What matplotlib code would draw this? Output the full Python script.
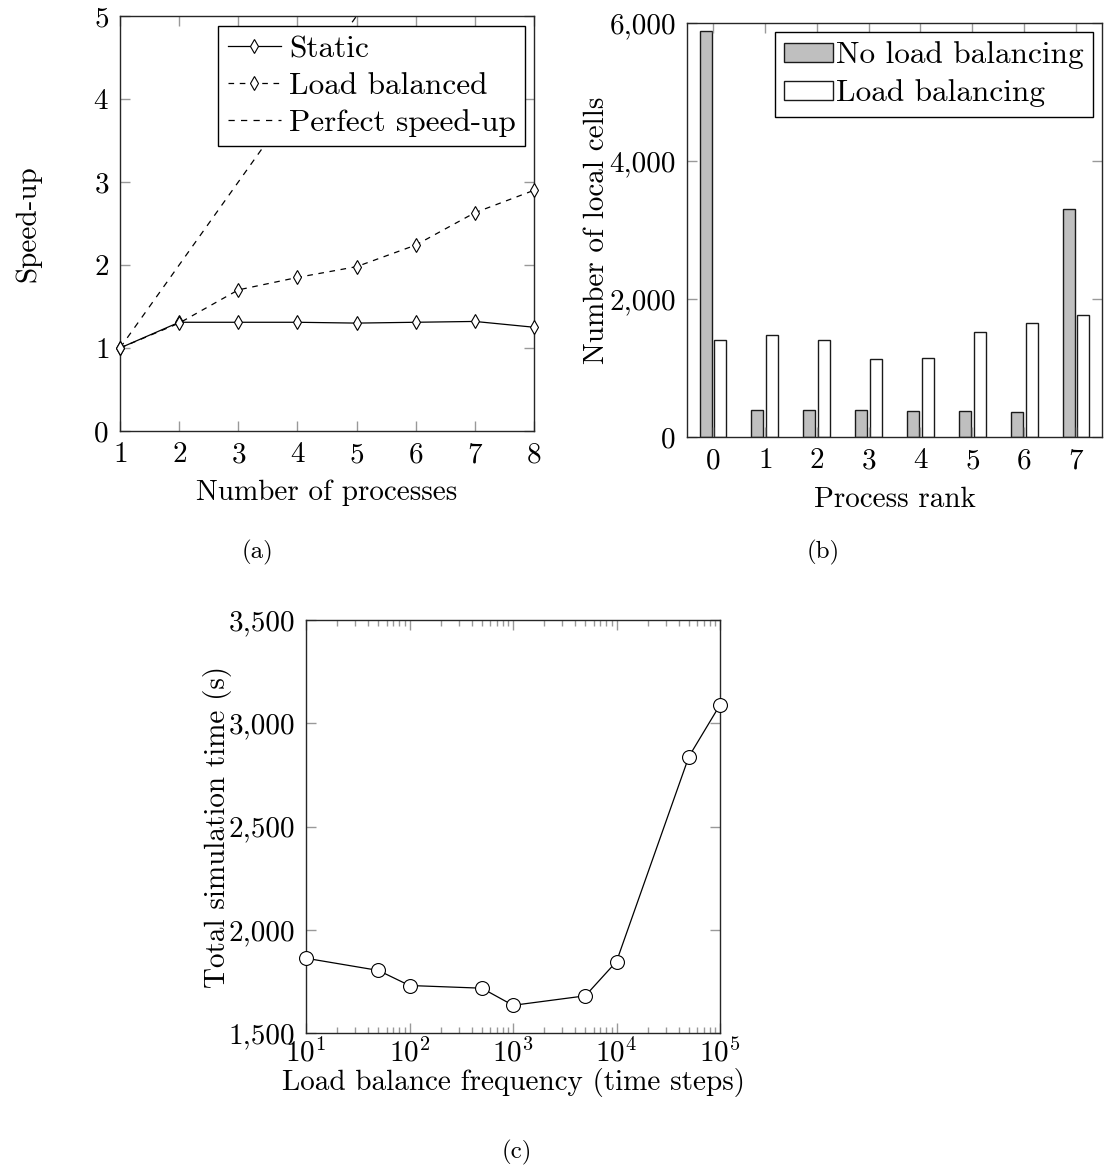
import matplotlib
matplotlib.use("Agg")
import matplotlib.pyplot as plt
import numpy as np
from matplotlib.ticker import FuncFormatter, LogLocator, NullFormatter, LogFormatterMathtext

plt.rcParams["font.family"] = "serif"
plt.rcParams["font.serif"] = ["cmr10"]
plt.rcParams["mathtext.fontset"] = "cm"
plt.rcParams["axes.formatter.use_mathtext"] = True
plt.rcParams["font.size"] = 21

# (a) speed-up
procs = [1, 2, 3, 4, 5, 6, 7, 8]
static = [1.0, 1.31, 1.31, 1.31, 1.30, 1.31, 1.32, 1.25]
balanced = [1.0, 1.30, 1.70, 1.85, 1.98, 2.24, 2.63, 2.90]
perfect = [1, 2, 3, 4, 5, 6, 7, 8]

# (b) cells per rank
ranks = [0, 1, 2, 3, 4, 5, 6, 7]
cells_static = [5890, 396, 391, 386, 381, 372, 357, 3305]
cells_balanced = [1406, 1483, 1406, 1130, 1145, 1517, 1647, 1763]

# (c) load balance frequency
freq = [10, 50, 100, 500, 1000, 5000, 10000, 50000, 100000]
sim_time = [1862, 1803, 1730, 1717, 1634, 1680, 1846, 2838, 3089]

W, H = 1104, 1174
fig = plt.figure(figsize=(W / 100, H / 100), dpi=100)


def box(l, t, r, b):
    return [l / W, 1 - b / H, (r - l) / W, (b - t) / H]


def style(ax):
    for s in ax.spines.values():
        s.set_color("0.15")
        s.set_linewidth(1.0)
    ax.tick_params(which="both", direction="in", top=True, right=True,
                   color="0.6", width=1.0, pad=8)
    ax.tick_params(which="major", length=7)
    ax.tick_params(which="minor", length=4.5)


comma = FuncFormatter(lambda v, p: "{:,.0f}".format(v))

# ---- (a)
ax1 = fig.add_axes(box(120, 16, 534, 431))
style(ax1)
ax1.plot(procs, static, "-", color="black", lw=0.9, marker="d", ms=7,
         mfc="white", mec="black", mew=0.8, clip_on=False, zorder=3, label="Static")
ax1.plot(procs, balanced, color="black", lw=0.9, ls=(0, (4.5, 4.5)), marker="d", ms=7,
         mfc="white", mec="black", mew=0.8, clip_on=False, zorder=3, label="Load balanced")
ax1.plot(procs, perfect, color="black", lw=0.9, ls=(0, (5, 5)), label="Perfect speed-up")
ax1.set_xlim(1, 8)
ax1.set_ylim(0, 5)
ax1.set_xticks(procs)
ax1.set_yticks([0, 1, 2, 3, 4, 5])
ax1.set_xlabel("Number of processes", va="center")
ax1.set_ylabel("Speed-up", va="center")
ax1.xaxis.set_label_coords(0.5, -0.149)
ax1.yaxis.set_label_coords(-0.222, 0.5)
leg = ax1.legend(loc="upper right", bbox_to_anchor=(0.978, 0.976), borderaxespad=0,
                 fancybox=False, edgecolor="black", framealpha=1, handlelength=1.7,
                 handletextpad=0.25, labelspacing=0.28, borderpad=0.3, fontsize=22.5)
leg.get_frame().set_linewidth(1.0)

# ---- (b)
ax2 = fig.add_axes(box(687, 23, 1102, 437))
style(ax2)
x = np.array(ranks)
ax2.bar(x - 0.142, cells_static, width=0.23, color="0.75", edgecolor="0.1",
        linewidth=1.0, label="No load balancing")
ax2.bar(x + 0.142, cells_balanced, width=0.23, color="white", edgecolor="0.1",
        linewidth=1.0, label="Load balancing")
ax2.set_xlim(-0.5, 7.5)
ax2.set_ylim(0, 6000)
ax2.set_xticks(ranks)
ax2.set_yticks([0, 2000, 4000, 6000])
ax2.yaxis.set_major_formatter(comma)
ax2.set_xlabel("Process rank", va="center")
ax2.set_ylabel("Number of local cells", va="center")
ax2.xaxis.set_label_coords(0.5, -0.152)
ax2.yaxis.set_label_coords(-0.217, 0.5)
leg2 = ax2.legend(loc="upper right", bbox_to_anchor=(0.978, 0.978), borderaxespad=0,
                  fancybox=False, edgecolor="black", framealpha=1, handlelength=1.55,
                  handleheight=0.55, handletextpad=0.1, labelspacing=0.32, borderpad=0.3,
                  fontsize=22.5)
leg2.get_frame().set_linewidth(1.0)

# ---- (c)
ax3 = fig.add_axes(box(306, 620, 720, 1033))
style(ax3)
ax3.plot(freq, sim_time, "-", color="black", lw=0.9, marker="o", ms=10,
         mfc="white", mec="black", mew=0.8, clip_on=False, zorder=3)
ax3.set_xscale("log")
ax3.set_xlim(10, 1e5)
ax3.set_ylim(1500, 3500)
ax3.set_xticks([10, 100, 1000, 10000, 100000])
ax3.xaxis.set_major_formatter(LogFormatterMathtext())
ax3.xaxis.set_minor_locator(LogLocator(base=10, subs=np.arange(2, 10), numticks=20))
ax3.xaxis.set_minor_formatter(NullFormatter())
ax3.set_yticks([1500, 2000, 2500, 3000, 3500])
ax3.yaxis.set_major_formatter(comma)
ax3.tick_params(axis="x", which="major", pad=4)
ax3.set_xlabel("Load balance frequency (time steps)", va="center")
ax3.set_ylabel("Total simulation time (s)", va="center")
ax3.xaxis.set_label_coords(0.5, -0.12)
ax3.yaxis.set_label_coords(-0.213, 0.5)

fig.text(258 / W, 1 - 552 / H, "(a)", ha="center", va="center", fontsize=18)
fig.text(823 / W, 1 - 552 / H, "(b)", ha="center", va="center", fontsize=18)
fig.text(517 / W, 1 - 1152 / H, "(c)", ha="center", va="center", fontsize=18)

fig.savefig("out.png", dpi=100)
